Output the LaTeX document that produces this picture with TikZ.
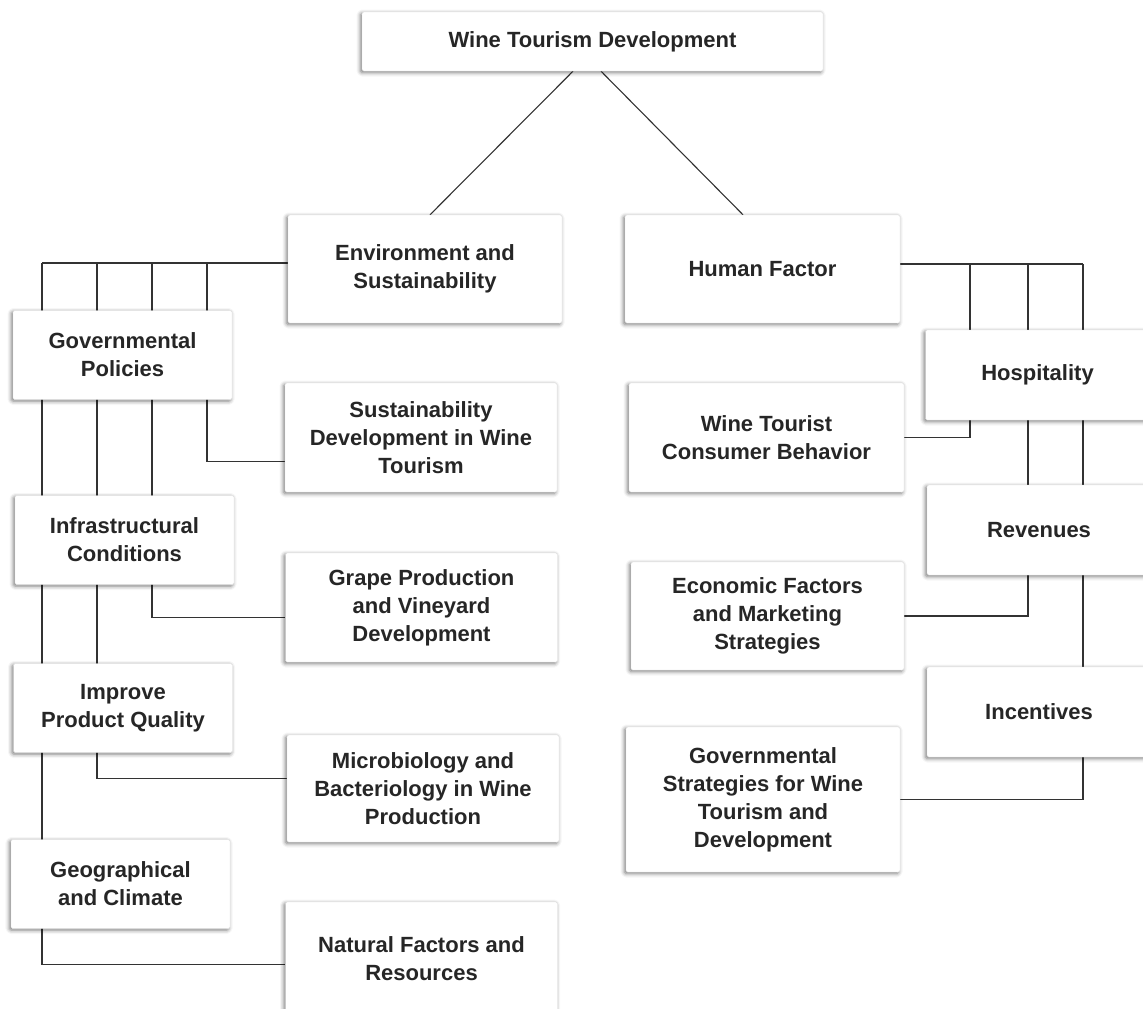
\documentclass[tikz,border=0pt]{standalone}
\usepackage{fontspec}
\setmainfont{Liberation Sans}
\usetikzlibrary{backgrounds, shadows.blur}

\begin{document}
\begin{tikzpicture}[x=1pt, y=-1pt,
  box/.style={draw=black!12, fill=white, rounded corners=1.5pt, align=center,
    inner sep=0pt, text=black!85, font=\bfseries\fontsize{22}{28}\selectfont,
    blur shadow={shadow xshift=-1.5pt, shadow yshift=-1.5pt,
      shadow blur radius=4pt, shadow opacity=55}},
  sidebox/.style={box, minimum width=219pt, minimum height=89pt},
  topicbox/.style={box, minimum width=272pt, minimum height=108pt},
  factorbox/.style={box, minimum width=224pt, minimum height=90pt},
  link/.style={draw=black!80, line width=1.6pt}]
\useasboundingbox (0,0) rectangle (1143,1009);
\clip (0,0) rectangle (1143,1009);

% root and the two branches
\node[box, minimum width=461pt, minimum height=59pt] (root) at (592.5,41.5) {Wine Tourism Development};
\node[topicbox, minimum width=274pt] (env) at (425,269) {Environment and\\Sustainability};
\node[topicbox, minimum width=275pt] (hum) at (762.5,269) {Human Factor};

% environment side
\node[sidebox] (gov) at (122.5,355) {Governmental\\Policies};
\node[sidebox] (infra) at (124.5,540) {Infrastructural\\Conditions};
\node[sidebox] (qual) at (123,708) {Improve\\Product Quality};
\node[sidebox] (geo) at (120.5,884) {Geographical\\and Climate};
\node[topicbox, minimum height=109pt] (sust) at (421,437.5) {Sustainability\\Development in Wine\\Tourism};
\node[topicbox, minimum height=109pt] (grape) at (421.5,607.5) {Grape Production\\and Vineyard\\Development};
\node[topicbox, minimum height=107pt] (micro) at (423,788.5) {Microbiology and\\Bacteriology in Wine\\Production};
\node[topicbox, minimum height=113pt] (nat) at (421.5,958.5) {Natural Factors and\\Resources};

% human side
\node[factorbox] (hosp) at (1037.5,375) {Hospitality};
\node[factorbox] (rev) at (1039,530) {Revenues};
\node[factorbox] (inc) at (1039,712) {Incentives};
\node[topicbox, minimum width=275pt, minimum height=109pt] (cons) at (766.5,437.5) {Wine Tourist\\Consumer Behavior};
\node[topicbox, minimum width=273pt] (econ) at (767.5,616) {Economic Factors\\and Marketing\\Strategies};
\node[topicbox, minimum width=274pt, minimum height=145pt] (strat) at (763,799.5) {Governmental\\Strategies for Wine\\Tourism and\\Development};

% connectors behind the boxes
\begin{scope}[on background layer]
\draw[link, line width=1.1pt] ([xshift=-19.5pt]root.south) -- ([xshift=5pt]env.north);
\draw[link, line width=1.1pt] ([xshift=8.5pt]root.south) -- ([xshift=-19.5pt]hum.north);

\coordinate (lbus) at ([yshift=6pt]env.west);
\coordinate (l1) at (42,263);
\coordinate (l2) at (97,263);
\coordinate (l3) at (152,263);
\coordinate (l4) at (207,263);
\draw[link] (lbus) -- (l1);
\draw[link] (l4) |- ([yshift=-24pt]sust.west);
\draw[link] (l3) |- ([yshift=-10pt]grape.west);
\draw[link] (l2) |- ([yshift=10pt]micro.west);
\draw[link] (l1) |- ([yshift=-6pt]nat.west);

\coordinate (rbus) at ([yshift=5pt]hum.east);
\coordinate (r1) at (970,264);
\coordinate (r2) at (1028,264);
\coordinate (r3) at (1083,264);
\draw[link] (rbus) -- (r3);
\draw[link] (r1) |- (cons.east);
\draw[link] (r2) |- (econ.east);
\draw[link] (r3) |- (strat.east);
\end{scope}
\end{tikzpicture}
\end{document}
